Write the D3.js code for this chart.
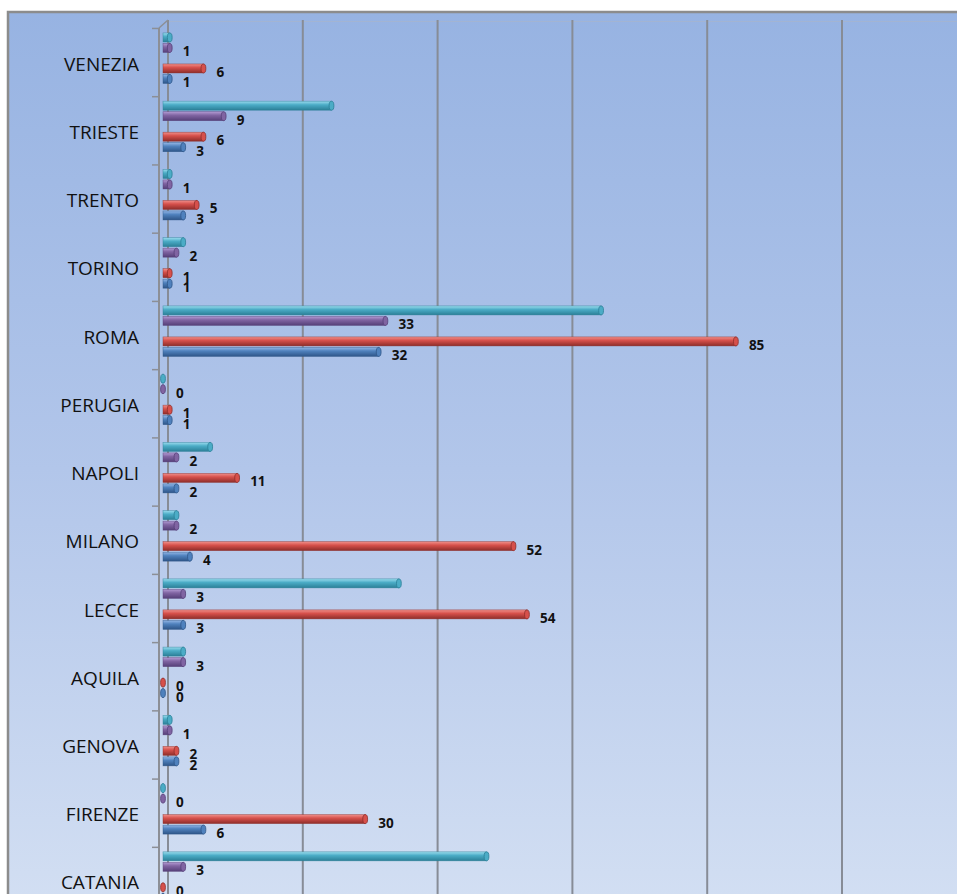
<!DOCTYPE html>
<html><head><meta charset="utf-8">
<script src="https://cdn.jsdelivr.net/npm/d3@7"></script>
<style>body{margin:0;background:#fff}svg{display:block}</style></head>
<body>
<script>
// ---- data (top to bottom as displayed) ----
const categories = ["VENEZIA","TRIESTE","TRENTO","TORINO","ROMA","PERUGIA","NAPOLI","MILANO","LECCE","AQUILA","GENOVA","FIRENZE","CATANIA"];
const seriesBlue   = [1, 3, 3, 1, 32, 1, 2, 4, 3, 0, 2, 6, 0];
const seriesRed    = [6, 6, 5, 1, 85, 1, 11, 52, 54, 0, 2, 30, 0];
const seriesPurple = [1, 9, 1, 2, 33, 0, 2, 2, 3, 3, 1, 0, 3];
const seriesCyan   = [1, 25, 1, 3, 65, 0, 7, 2, 35, 3, 1, 0, 48];
const xTicks = [0, 20, 40, 60, 80, 100];

const W = 957, H = 894;
const svg = d3.select("body").append("svg").attr("width", W).attr("height", H);
const defs = svg.append("defs");

const bg = defs.append("linearGradient").attr("id","bg").attr("x1",0).attr("y1",0).attr("x2",0).attr("y2",1);
bg.append("stop").attr("offset","0%").attr("stop-color","#97b3e2");
bg.append("stop").attr("offset","50%").attr("stop-color","#b2c6ea");
bg.append("stop").attr("offset","100%").attr("stop-color","#d4e0f3");

const series = [
  {key:"cyan",   values:seriesCyan,   off:9,    light:"#9bdcee", base:"#4bacc6", dark:"#2b7f97", label:false},
  {key:"purple", values:seriesPurple, off:19.5, light:"#b29ad3", base:"#8064a2", dark:"#553f78", label:true},
  {key:"red",    values:seriesRed,    off:40,   light:"#f0908b", base:"#d6504b", dark:"#8e2d2a", label:true},
  {key:"blue",   values:seriesBlue,   off:50.5, light:"#93b6e6", base:"#4f81bd", dark:"#2e5588", label:true}
];
series.forEach(s => {
  const g = defs.append("linearGradient").attr("id","g-"+s.key).attr("x1",0).attr("y1",0).attr("x2",0).attr("y2",1);
  g.append("stop").attr("offset","0%").attr("stop-color",s.light);
  g.append("stop").attr("offset","40%").attr("stop-color",s.base);
  g.append("stop").attr("offset","100%").attr("stop-color",s.dark);
});

// frame
svg.append("rect").attr("x",8).attr("y",12).attr("width",W+20).attr("height",H+20)
  .attr("fill","url(#bg)").attr("stroke","#8c8c8c").attr("stroke-width",2.5);

const x = d3.scaleLinear().domain([0,100]).range([163, 837]);
const bandTop = 28.46, bandH = 68.24;
const y = d3.scaleBand().domain(categories).range([bandTop, bandTop + bandH*categories.length]).padding(0);

// back wall top line
svg.append("line").attr("x1",167).attr("x2",W).attr("y1",21.5).attr("y2",21.5)
  .attr("stroke","#a3b4d2").attr("stroke-width",1);

// gridlines (back wall, offset for 3D depth)
svg.append("g").selectAll("line").data(xTicks).join("line")
  .attr("x1",d=>x(d)+5).attr("x2",d=>x(d)+5).attr("y1",20).attr("y2",H)
  .attr("stroke","#878c96").attr("stroke-width",2);

// front axis line + depth connector
svg.append("line").attr("x1",159).attr("x2",159).attr("y1",28).attr("y2",H)
  .attr("stroke","#8c8f96").attr("stroke-width",2);
svg.append("line").attr("x1",159).attr("x2",168).attr("y1",28).attr("y2",20)
  .attr("stroke","#8c8f96").attr("stroke-width",1.5);
// category ticks
const tickYs = categories.map(c => y(c)).concat([y(categories[categories.length-1]) + y.bandwidth()]);
svg.append("g").selectAll("line").data(tickYs).join("line")
  .attr("x1",152).attr("x2",159).attr("y1",d=>d).attr("y2",d=>d)
  .attr("stroke","#8c8f96").attr("stroke-width",1.5);

// category labels
svg.append("g").selectAll("text").data(categories).join("text")
  .attr("x",139).attr("y",c=>y(c)+y.bandwidth()/2+1)
  .attr("text-anchor","end").attr("dominant-baseline","central")
  .attr("font-family","'Open Sans', sans-serif").attr("font-size",19).attr("fill","#111")
  .text(c=>c);

// bars
const barH = 9;
series.forEach(s => {
  const g = svg.append("g");
  const data = categories.map((c,i)=>({c, v:s.values[i]}));
  g.selectAll("rect").data(data).join("rect")
    .attr("x",x(0)).attr("y",d=>y(d.c)+s.off-barH/2)
    .attr("width",d=>Math.max(0,x(d.v)-x(0))).attr("height",barH)
    .attr("fill","url(#g-"+s.key+")").attr("stroke",s.dark).attr("stroke-width",0.6).attr("stroke-opacity",0.7);
  g.selectAll("ellipse").data(data).join("ellipse")
    .attr("cx",d=>x(d.v)).attr("cy",d=>y(d.c)+s.off)
    .attr("rx",2.4).attr("ry",barH/2)
    .attr("fill",s.base).attr("stroke",s.dark).attr("stroke-width",0.8);
  if (s.label) {
    g.selectAll("text").data(data).join("text")
      .attr("x",d=>x(d.v)+13).attr("y",d=>y(d.c)+s.off+3.5)
      .attr("dominant-baseline","central")
      .attr("font-family","'Open Sans', sans-serif").attr("font-weight","bold")
      .attr("font-size",13.5).attr("fill","#111")
      .text(d=>d.v);
  }
});
</script>
</body></html>
